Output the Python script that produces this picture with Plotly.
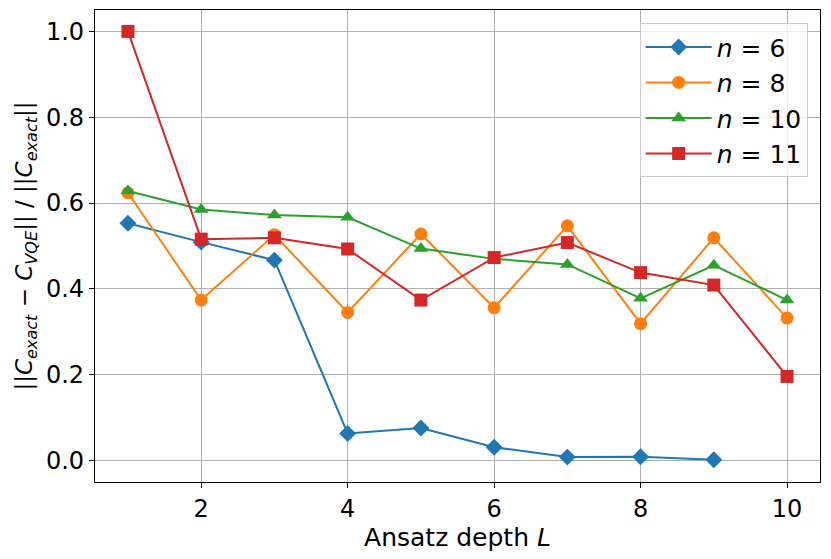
import plotly.graph_objects as go

# Ansatz depth L
depth_6 = [1, 2, 3, 4, 5, 6, 7, 8, 9]
depth = [1, 2, 3, 4, 5, 6, 7, 8, 9, 10]

# relative error per qubit count
err_n6 = [0.553, 0.509, 0.467, 0.063, 0.076, 0.031, 0.008, 0.009, 0.002]
err_n8 = [0.624, 0.374, 0.526, 0.345, 0.528, 0.356, 0.547, 0.319, 0.519, 0.332]
err_n10 = [0.628, 0.585, 0.572, 0.567, 0.494, 0.470, 0.457, 0.378, 0.455, 0.374]
err_n11 = [1.0, 0.516, 0.519, 0.493, 0.374, 0.473, 0.508, 0.438, 0.409, 0.196]

series = [
    ("<i>n</i> = 6", depth_6, err_n6, "#1f77b4", "diamond", 13),
    ("<i>n</i> = 8", depth, err_n8, "#ff7f0e", "circle", 13),
    ("<i>n</i> = 10", depth, err_n10, "#2ca02c", "triangle-up", 13),
    ("<i>n</i> = 11", depth, err_n11, "#d62728", "square", 13),
]

fig = go.Figure()
for name, xs, ys, color, symbol, size in series:
    fig.add_trace(go.Scatter(
        x=xs, y=ys, name=name, mode="lines+markers",
        line=dict(color=color, width=2),
        marker=dict(symbol=symbol, size=size, color=color),
    ))

axis_style = dict(
    showline=True, linecolor="black", linewidth=1.2, mirror=True,
    ticks="outside", ticklen=5, tickcolor="black",
    showgrid=True, gridcolor="#b0b0b0", gridwidth=1, zeroline=False,
    tickfont=dict(size=24, color="black"), automargin=False,
)

fig.update_xaxes(
    range=[0.55, 10.45], tickvals=[2, 4, 6, 8, 10],
    title=dict(text="Ansatz depth <i>L</i>", font=dict(size=25, color="black"), standoff=0),
    **axis_style,
)
fig.update_yaxes(
    range=[-0.05, 1.05], tickvals=[0.0, 0.2, 0.4, 0.6, 0.8, 1.0], tickformat=".1f",
    title=dict(
        text="||<i>C</i><sub><i>exact</i></sub> − <i>C</i><sub><i>VQE</i></sub>|| / ||<i>C</i><sub><i>exact</i></sub>||",
        font=dict(size=23, color="black"), standoff=6,
    ),
    **axis_style,
)

# the page body adds an 8px offset, so the figure is sized to compensate
fig.update_layout(
    width=823, height=551,
    margin=dict(l=87, r=11, t=2, b=77),
    plot_bgcolor="white", paper_bgcolor="white",
    font=dict(family="DejaVu Sans", color="black"),
    legend=dict(
        x=0.983, y=0.972, xanchor="right", yanchor="top",
        bgcolor="rgba(255,255,255,0.8)", bordercolor="#cccccc", borderwidth=1,
        font=dict(size=25), itemwidth=66, tracegroupgap=0,
    ),
)

fig.write_html("out.html")
